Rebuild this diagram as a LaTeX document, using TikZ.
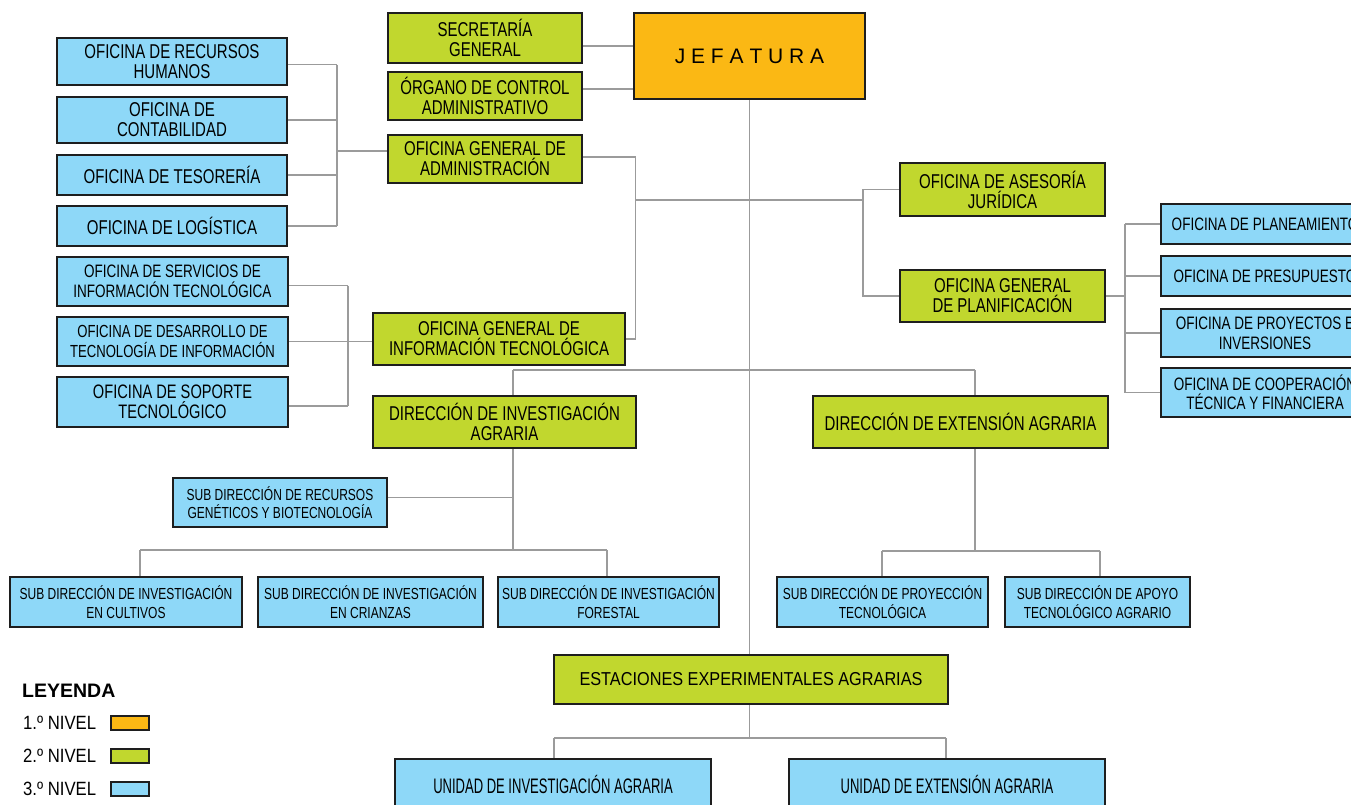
\documentclass[tikz,border=0pt]{standalone}
\usepackage{fontspec}
\setmainfont{Liberation Sans}[FakeStretch=0.75]
\newfontfamily\plainfont{Liberation Sans}
\newfontfamily\midfont{Liberation Sans}[FakeStretch=0.87]
\newfontfamily\tightfont{Liberation Sans}[FakeStretch=0.62]

\definecolor{orangefill}{HTML}{FBB814}
\definecolor{greenfill}{HTML}{C1D72E}
\definecolor{bluefill}{HTML}{8ED8F8}
\definecolor{boxline}{HTML}{1E1E1E}
\definecolor{linegray}{HTML}{9B9B9B}

\pgfdeclarelayer{bg}
\pgfsetlayers{bg,main}

\tikzset{
  box/.style={draw=boxline, line width=1.2pt, inner sep=0pt, align=center,
              font=\fontsize{20}{20}\selectfont},
  lvlone/.style={box, fill=orangefill},
  lvltwo/.style={box, fill=greenfill},
  lvlthree/.style={box, fill=bluefill},
  sz/.style 2 args={minimum width=#1, minimum height=#2},
  subtext/.style={font=\fontsize{16}{18.3}\selectfont},
  conn/.style={draw=linegray, line width=1.3pt},
  legtext/.style={inner sep=0pt, anchor=west, font=\midfont\fontsize{19.2}{19}\selectfont},
  swatch/.style={draw=boxline, line width=1.2pt, minimum width=38, minimum height=14, inner sep=0pt},
}

\begin{document}
\begin{tikzpicture}[x=1pt, y=-1pt]
\useasboundingbox (0,0) rectangle (1351,804);

% ---- first level
\node[lvlone, sz={231}{86}, font=\plainfont\fontsize{21}{21}\selectfont] (jef) at (749.5,56) {J E F A T U R A};

% ---- second level
\node[lvltwo, sz={194}{50}] (sec)  at (485,38)    {SECRETARÍA\\GENERAL};
\node[lvltwo, sz={194}{48}] (org)  at (485,96)    {ÓRGANO DE CONTROL\\ADMINISTRATIVO};
\node[lvltwo, sz={194}{48}] (oga)  at (485,159)   {OFICINA GENERAL DE\\ADMINISTRACIÓN};
\node[lvltwo, sz={205}{53}] (ase)  at (1002.5,189.5) {OFICINA DE ASESORÍA\\JURÍDICA};
\node[lvltwo, sz={205}{52}] (ogp)  at (1002.5,296) {OFICINA GENERAL\\DE PLANIFICACIÓN};
\node[lvltwo, sz={252}{52}] (ogit) at (499,339)   {OFICINA GENERAL DE\\INFORMACIÓN TECNOLÓGICA};
\node[lvltwo, sz={263}{52}] (dia)  at (504.5,422) {DIRECCIÓN DE INVESTIGACIÓN\\AGRARIA};
\node[lvltwo, sz={295}{52}] (dea)  at (960.5,422) {DIRECCIÓN DE EXTENSIÓN AGRARIA};
\node[lvltwo, sz={394}{49}, font=\midfont\fontsize{18.7}{19}\selectfont] (est) at (751,679.5) {ESTACIONES EXPERIMENTALES AGRARIAS};

% ---- third level: administration
\node[lvlthree, sz={230}{47}] (rrhh) at (172,61.5) {OFICINA DE RECURSOS\\HUMANOS};
\node[lvlthree, sz={230}{46}] (cont) at (172,120)  {OFICINA DE\\CONTABILIDAD};
\node[lvlthree, sz={230}{40}] (tes)  at (172,175)  {OFICINA DE TESORERÍA};
\node[lvlthree, sz={230}{40}] (log)  at (172,226)  {OFICINA DE LOGÍSTICA};

% ---- third level: information technology
\node[lvlthree, sz={231}{49}, font=\fontsize{18}{20}\selectfont]   (serv) at (172.5,281.5) {OFICINA DE SERVICIOS DE\\INFORMACIÓN TECNOLÓGICA};
\node[lvlthree, sz={231}{49}, font=\fontsize{17.5}{20}\selectfont] (desa) at (172.5,341.5) {OFICINA DE DESARROLLO DE\\TECNOLOGÍA DE INFORMACIÓN};
\node[lvlthree, sz={231}{50}, font=\fontsize{19.5}{20}\selectfont] (sop)  at (172.5,402)   {OFICINA DE SOPORTE\\TECNOLÓGICO};

% ---- third level: planning (boxes run past the right edge)
\node[lvlthree, sz={208}{40}, font=\fontsize{18}{19.5}\selectfont] (plan) at (1265,224)   {OFICINA DE PLANEAMIENTO};
\node[lvlthree, sz={208}{40}, font=\fontsize{18}{19.5}\selectfont] (pres) at (1265,276)   {OFICINA DE PRESUPUESTO};
\node[lvlthree, sz={208}{48}, font=\fontsize{18}{20}\selectfont]   (proy) at (1265,333)   {OFICINA DE PROYECTOS E\\INVERSIONES};
\node[lvlthree, sz={208}{49}, font=\fontsize{18}{19}\selectfont]   (coop) at (1265,392.5) {OFICINA DE COOPERACIÓN\\TÉCNICA Y FINANCIERA};

% ---- third level: research and extension
\node[lvlthree, sz={214}{49}, subtext] (srg) at (280,502.5)  {SUB DIRECCIÓN DE RECURSOS\\GENÉTICOS Y BIOTECNOLOGÍA};
\node[lvlthree, sz={232}{50}, subtext] (sic) at (126,602)    {SUB DIRECCIÓN DE INVESTIGACIÓN\\EN CULTIVOS};
\node[lvlthree, sz={225}{50}, subtext] (scr) at (370.5,602)  {SUB DIRECCIÓN DE INVESTIGACIÓN\\EN CRIANZAS};
\node[lvlthree, sz={221}{50}, subtext] (sfo) at (608.5,602)  {SUB DIRECCIÓN DE INVESTIGACIÓN\\FORESTAL};
\node[lvlthree, sz={211}{50}, subtext] (spt) at (882.5,602)  {SUB DIRECCIÓN DE PROYECCIÓN\\TECNOLÓGICA};
\node[lvlthree, sz={185}{50}, subtext] (sat) at (1097.5,602) {SUB DIRECCIÓN DE APOYO\\TECNOLÓGICO AGRARIO};

% ---- third level: experimental stations (boxes run past the bottom edge)
\node[lvlthree, sz={316}{50}, font=\tightfont\fontsize{21}{21}\selectfont] (uia) at (553,784) {UNIDAD DE INVESTIGACIÓN AGRARIA};
\node[lvlthree, sz={316}{50}, font=\tightfont\fontsize{21}{21}\selectfont] (uea) at (947,784) {UNIDAD DE EXTENSIÓN AGRARIA};

% ---- legend
\node[inner sep=0pt, anchor=west, font=\plainfont\bfseries\fontsize{19.5}{19.5}\selectfont] (ley) at (22,691) {LEYENDA};
\node[legtext] (l1) at (23,723) {1.º NIVEL};
\node[legtext] (l2) at (23,756) {2.º NIVEL};
\node[legtext] (l3) at (23,789) {3.º NIVEL};
\node[swatch, fill=orangefill] (s1) at (130,723) {};
\node[swatch, fill=greenfill]  (s2) at (130,756) {};
\node[swatch, fill=bluefill]   (s3) at (130,789) {};

% ---- connectors, kept behind the boxes
\begin{pgfonlayer}{bg}
\fill[white] (0,0) rectangle (1351,804);

% staff units beside the head office
\coordinate (secC) at ([yshift=-8pt]sec.east);
\coordinate (orgC) at ([yshift=7pt]org.east);
\draw[conn] (secC) -- (secC -| jef.west);
\draw[conn] (orgC) -- (orgC -| jef.west);
\draw[conn] (jef.south) -- (jef.south |- est.north);

% administration and information technology branch
\coordinate (itR) at ([xshift=10pt]ogit.east);
\draw[conn] ([yshift=2pt]oga.east) -| (itR) -- (ogit.east);
\coordinate (hubL) at (635,200);
\coordinate (hubR) at (863,200);
\draw[conn] (hubL) -- (hubR);
\draw[conn] (ase.west) -| (hubR) |- (ogp.west);

% planning offices
\coordinate (pb) at (1125,0);
\draw[conn] (ogp.east) -- (ogp.east -| pb);
\draw[conn] (plan.west -| pb) -- (coop.west -| pb);
\foreach \n in {plan,pres,proy,coop} \draw[conn] (\n.west -| pb) -- (\n.west);

% administration offices
\coordinate (ab) at (337,0);
\draw[conn] ([yshift=-3pt]rrhh.east -| ab) -- (log.east -| ab);
\draw[conn] ([yshift=-3pt]rrhh.east) -- ([yshift=-3pt]rrhh.east -| ab);
\foreach \n in {cont,tes,log} \draw[conn] (\n.east) -- (\n.east -| ab);
\coordinate (ogaL) at ([yshift=8pt]oga.west);
\draw[conn] (ogaL -| ab) -- (ogaL);

% information technology offices
\coordinate (ib) at (348,0);
\coordinate (servC) at ([yshift=-4pt]serv.east);
\coordinate (sopC) at ([yshift=-4pt]sop.east);
\draw[conn] (servC -| ib) -- (sopC -| ib);
\draw[conn] (servC) -- (servC -| ib);
\draw[conn] (sopC) -- (sopC -| ib);
\draw[conn] (desa.east) -- (desa.east -| ogit.west);

% directorates
\coordinate (dl) at (513,370);
\coordinate (dr) at (975,370);
\draw[conn] (dl) -- (dr);
\draw[conn] (dl) -- (dl |- dia.north);
\draw[conn] (dr) -- (dr |- dea.north);

% research sub-directorates
\coordinate (sbL) at (140,550);
\coordinate (sbR) at (607,550);
\draw[conn] (dl |- dia.south) -- (dl |- sbL);
\coordinate (srgC) at ([yshift=5pt]srg.east);
\draw[conn] (srgC) -- (srgC -| dl);
\draw[conn] (sbL) -- (sbR);
\draw[conn] (sbL) -- (sbL |- sic.north);
\draw[conn] (sbR) -- (sbR |- sfo.north);

% extension sub-directorates
\coordinate (eL) at (882,551);
\coordinate (eR) at (1100,551);
\draw[conn] (dr |- dea.south) -- (dr |- eL);
\draw[conn] (eL) -- (eR);
\draw[conn] (eL) -- (eL |- spt.north);
\draw[conn] (eR) -- (eR |- sat.north);

% experimental stations units
\coordinate (uL) at (554,738);
\coordinate (uR) at (946,738);
\draw[conn] (jef.south |- est.south) -- (jef.south |- uL);
\draw[conn] (uL) -- (uR);
\draw[conn] (uL) -- (uL |- uia.north);
\draw[conn] (uR) -- (uR |- uea.north);
\end{pgfonlayer}
\end{tikzpicture}
\end{document}
